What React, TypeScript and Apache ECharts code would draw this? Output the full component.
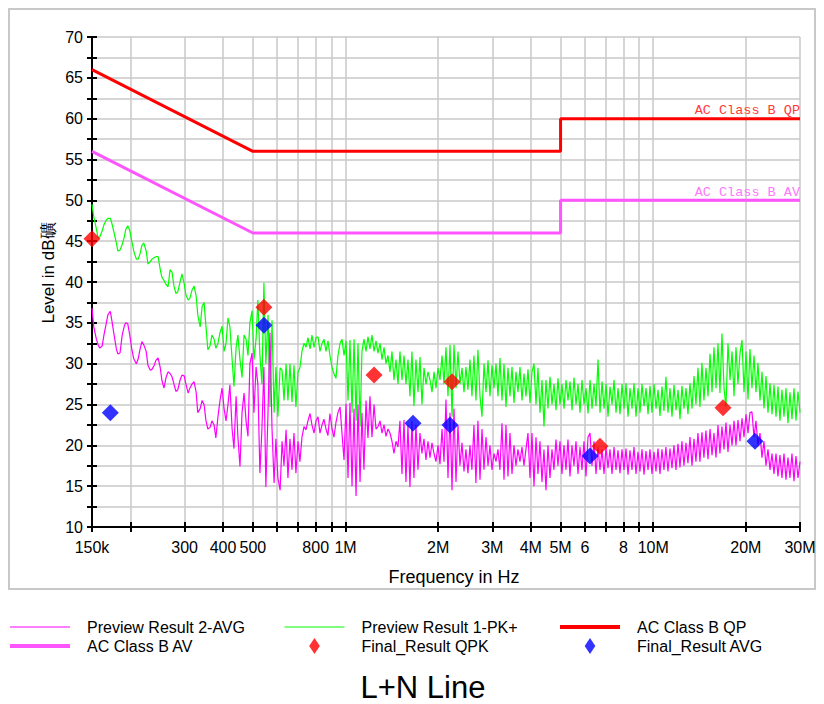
import React, { useEffect, useRef } from "react";
import * as echarts from "echarts";

// Sweep frequencies (kHz) of the preview scans
const freqKHz = [
  150, 152, 155, 157,
  159, 162, 164, 167, 169, 172, 174, 177, 180, 182, 185, 188, 191, 193, 196,
  199, 202, 205, 209, 212, 215, 218, 221, 225, 228, 232, 235, 239, 242, 246,
  250, 253, 257, 261, 265, 269, 273, 277, 281, 285, 290, 294, 299, 303, 308,
  312, 317, 322, 327, 331, 337, 342, 347, 352, 357, 363, 368, 374, 379, 385,
  391, 397, 403, 409, 415, 421, 428, 434, 441, 447, 454, 461, 468, 475, 482,
  489, 497, 504, 512, 519, 527, 535, 543, 551, 560, 568, 577, 586, 594, 603,
  613, 622, 631, 641, 650, 660, 670, 680, 690, 701, 711, 722, 733, 744, 755,
  767, 778, 790, 802, 814, 826, 839, 851, 864, 877, 890, 904, 917, 931, 945,
  960, 974, 989, 1004, 1019, 1034, 1050, 1066, 1082, 1098, 1115, 1131, 1148, 1166, 1183,
  1201, 1219, 1238, 1256, 1275, 1295, 1314, 1334, 1354, 1374, 1395, 1416, 1437, 1459, 1481,
  1503, 1526, 1549, 1572, 1596, 1620, 1644, 1669, 1694, 1720, 1746, 1772, 1799, 1826, 1854,
  1882, 1910, 1939, 1968, 1998, 2028, 2059, 2090, 2121, 2153, 2186, 2219, 2252, 2286, 2320,
  2355, 2391, 2427, 2463, 2500, 2538, 2576, 2615, 2654, 2694, 2736, 2777, 2819, 2862, 2905,
  2948, 2993, 3038, 3084, 3130, 3177, 3225, 3274, 3323, 3373, 3424, 3476, 3528, 3581, 3635,
  3690, 3746, 3802, 3859, 3918, 3977, 4037, 4098, 4160, 4222, 4286, 4351, 4416, 4483, 4550,
  4619, 4689, 4759, 4831, 4904, 4978, 5053, 5130, 5207, 5285, 5365, 5446, 5528, 5612, 5696,
  5782, 5869, 5958, 6048, 6139, 6232, 6326, 6421, 6518, 6617, 6716, 6818, 6921, 7025, 7131,
  7238, 7348, 7459, 7571, 7686, 7800, 7918, 8038, 8159, 8282, 8406, 8533, 8662, 8793, 8925,
  9059, 9196, 9335, 9476, 9619, 9763, 9910, 10060, 10212, 10366, 10520, 10680, 10840, 11000, 11170,
  11340, 11510, 11680, 11860, 12040, 12220, 12400, 12590, 12780, 12970, 13170, 13370, 13570, 13770, 13980,
  14190, 14400, 14620, 14840, 15070, 15300, 15530, 15760, 16000, 16240, 16480, 16730, 16990, 17240, 17500,
  17770, 18040, 18310, 18580, 18860, 19150, 19440, 19730, 20030, 20330, 20630, 20940, 21260, 21580, 21900,
  22240, 22570, 22910, 23260, 23610, 23970, 24330, 24690, 25070, 25440, 25820, 26210, 26610, 27010, 27420,
  27830, 28250, 28680, 29110, 29550, 30000,
];

// Preview Result 1-PK+ (dBµV)
const pkLevels = [
  49.5, 48.0, 46.5, 45.4,
  45.5, 46.3, 47.0, 47.6, 47.8, 47.8, 47.2, 46.0, 44.8, 43.8, 43.9, 44.6, 45.5, 46.4, 46.9,
  46.3, 45.0, 43.8, 42.8, 42.8, 43.5, 44.5, 44.8, 43.8, 42.2, 42.5, 42.8, 43.0, 43.1, 43.1,
  41.5, 40.6, 40.2, 39.7, 39.4, 41.5, 41.2, 39.5, 38.6, 38.8, 40.0, 41.0, 39.8, 38.4, 37.8,
  38.0, 39.0, 39.5, 38.3, 36.0, 34.5, 37.0, 37.5, 34.5, 31.7, 32.2, 33.5, 33.0, 31.9, 32.5,
  33.8, 34.6, 31.5, 32.5, 35.6, 34.5, 30.5, 27.2, 32.0, 33.5, 30.5, 28.3, 33.5, 33.0, 31.0,
  35.0, 36.5, 30.5, 33.0, 37.8, 31.0, 27.5, 39.9, 30.0, 36.0, 24.7, 35.3, 24.0, 29.6, 23.5,
  29.5, 29.2, 25.5, 30.0, 25.5, 30.0, 25.3, 29.8, 24.7, 29.0, 29.5, 31.5, 32.5, 32.0, 33.2,
  31.8, 33.5, 32.0, 33.2, 33.3, 31.5, 32.5, 33.0, 31.5, 32.8, 31.0, 29.5, 28.8, 28.2, 31.0,
  32.5, 33.0, 31.0, 32.8, 25.5, 32.9, 24.0, 33.0, 23.0, 32.5, 22.3, 31.5, 33.0, 31.5, 33.3,
  31.8, 33.5, 31.5, 32.8, 31.3, 32.5, 30.5, 32.0, 30.0, 31.0, 29.0, 31.5, 28.0, 30.5, 27.5,
  31.5, 28.0, 31.0, 27.5, 30.5, 26.0, 31.5, 24.8, 30.5, 26.5, 30.8, 25.0, 29.5, 27.5, 29.0,
  28.0, 26.5, 29.0, 27.0, 29.5, 28.0, 31.0, 27.5, 32.0, 26.0, 32.3, 23.5, 32.3, 27.0, 31.5,
  27.5, 29.5, 26.5, 29.6, 26.8, 30.5, 26.0, 31.0, 25.5, 31.7, 26.0, 23.5, 30.0, 26.5, 30.4,
  26.0, 29.8, 27.0, 30.0, 26.0, 30.7, 25.5, 30.0, 24.7, 29.5, 26.0, 29.6, 25.2, 29.0, 26.5,
  29.6, 25.5, 28.8, 26.0, 29.3, 25.2, 29.0, 30.0, 25.0, 29.5, 24.0, 28.0, 22.3, 28.0, 24.5,
  28.4, 25.0, 27.5, 24.3, 28.2, 25.0, 27.5, 24.5, 28.0, 25.5, 27.8, 24.3, 28.3, 25.0, 27.5,
  24.0, 28.0, 25.0, 27.0, 23.9, 28.0, 24.5, 27.5, 24.8, 30.5, 24.0, 27.8, 24.5, 27.5, 23.5,
  27.2, 25.0, 28.0, 24.0, 27.0, 23.8, 27.5, 24.5, 27.6, 23.5, 27.0, 24.5, 27.6, 23.5, 27.0,
  24.0, 27.5, 24.8, 27.0, 23.8, 27.3, 24.0, 27.5, 24.5, 26.8, 23.6, 27.2, 24.2, 28.4, 24.0,
  27.0, 23.5, 27.4, 24.3, 26.8, 23.2, 27.3, 24.5, 27.0, 23.8, 27.6, 24.5, 28.5, 25.0, 29.5,
  24.7, 30.1, 25.5, 29.5, 26.0, 31.2, 26.5, 32.0, 27.0, 32.5, 26.4, 33.7, 27.0, 24.7, 32.5,
  28.0, 31.5, 26.0, 32.0, 27.5, 31.3, 32.9, 26.5, 31.5, 25.6, 31.8, 27.0, 31.0, 26.5, 30.1,
  25.5, 29.0, 24.5, 28.5, 24.0, 27.6, 23.8, 27.4, 23.5, 27.2, 23.0, 26.8, 23.5, 27.0, 22.7,
  26.5, 23.2, 27.0, 23.0, 26.6, 24.0,
];

// Preview Result 2-AVG (dBµV)
const avgLevels = [
  36.8, 34.5, 33.0, 32.3,
  31.9, 32.2, 33.5, 35.0, 36.0, 36.4, 35.3, 33.5, 31.8, 31.2, 31.3, 33.5, 34.6, 35.0, 34.9,
  33.5, 31.8, 30.6, 30.0, 30.6, 31.8, 32.7, 32.3, 31.5, 29.8, 29.2, 29.3, 29.8, 30.4, 30.7,
  29.5, 28.0, 27.0, 28.3, 29.0, 28.8, 28.4, 27.5, 26.6, 26.8, 28.0, 28.6, 28.5, 27.5, 26.4,
  27.0, 27.5, 27.8, 26.5, 24.0, 24.5, 25.5, 25.0, 23.0, 22.0, 22.2, 23.0, 22.5, 20.9, 23.5,
  25.5, 27.0, 24.5, 23.0, 25.0, 27.4, 22.0, 19.6, 26.0, 21.0, 17.4, 24.0, 26.4, 23.0, 21.1,
  30.0, 31.3, 24.0, 29.6, 27.5, 16.6, 22.0, 29.6, 14.9, 24.0, 33.8, 22.0, 15.4, 20.8, 16.0,
  14.5, 20.5, 17.5, 21.9, 16.0, 20.8, 17.0, 21.5, 16.6, 20.5, 18.0, 21.0, 22.3, 21.9, 23.0,
  23.9, 22.5, 21.5, 23.0, 23.5, 21.5, 22.5, 23.2, 22.0, 21.2, 23.9, 22.0, 21.0, 22.8, 24.0,
  24.7, 21.5, 18.2, 25.1, 16.0, 25.2, 15.0, 24.5, 13.8, 25.0, 15.5, 24.0, 17.0, 25.5, 20.9,
  26.0, 21.0, 25.0, 22.0, 22.3, 23.0, 21.5, 22.5, 21.1, 22.0, 21.5, 20.5, 19.0, 20.5, 19.8,
  23.0, 16.5, 23.1, 15.5, 22.5, 14.9, 23.0, 16.0, 22.5, 17.0, 21.5, 19.0, 20.8, 18.2, 20.5,
  18.5, 20.3, 19.0, 18.0, 20.0, 17.7, 22.0, 18.0, 25.6, 16.0, 24.0, 14.5, 24.5, 15.5, 22.5,
  17.5, 20.3, 16.8, 19.5, 16.6, 20.0, 17.0, 22.5, 15.4, 23.0, 15.8, 22.0, 17.0, 21.0, 17.5,
  20.0, 17.0, 19.0, 18.0, 19.5, 17.0, 22.7, 15.8, 22.5, 16.2, 21.5, 16.5, 20.0, 17.5, 19.5,
  18.0, 19.8, 17.5, 19.5, 21.5, 16.0, 21.5, 15.0, 21.0, 16.5, 20.5, 15.5, 19.5, 14.5, 20.0,
  16.0, 19.5, 17.0, 20.7, 17.5, 20.5, 16.5, 20.0, 17.0, 20.7, 16.2, 20.0, 17.5, 20.5, 16.5,
  19.8, 17.0, 20.5, 16.2, 21.0, 21.5, 17.5, 20.5, 16.5, 19.8, 17.0, 19.5, 16.5, 19.8, 17.2,
  19.5, 16.5, 19.8, 17.0, 19.4, 16.6, 19.5, 17.0, 19.6, 16.4, 19.4, 17.0, 19.8, 16.5, 19.2,
  16.8, 19.5, 16.4, 19.3, 17.0, 19.5, 16.5, 19.2, 16.8, 19.6, 16.5, 19.5, 17.0, 19.8, 16.8,
  19.6, 17.2, 20.0, 17.0, 20.2, 17.3, 20.5, 17.5, 20.3, 17.8, 21.0, 17.5, 20.8, 18.0, 21.5,
  18.0, 21.6, 18.5, 21.8, 18.3, 22.0, 18.8, 21.5, 18.5, 22.5, 19.0, 22.3, 19.5, 22.8, 19.2,
  22.5, 20.0, 23.0, 20.0, 23.1, 20.5, 23.3, 21.0, 23.8, 21.5, 24.0, 24.1, 21.0, 23.0, 20.0,
  21.5, 18.5, 20.5, 17.5, 19.5, 17.0, 19.0, 16.5, 19.0, 16.2, 18.8, 16.0, 19.0, 15.8, 18.5,
  16.0, 19.0, 15.6, 18.7, 16.0, 18.0,
];

// Limit lines
const qpLimitFreq = [150, 500, 5000, 5000, 30000];
const qpLimitLevel = [66, 56, 56, 60, 60];
const avLimitFreq = [150, 500, 5000, 5000, 30000];
const avLimitLevel = [56, 46, 46, 50, 50];

// Final measurements
const qpkFreq = [150, 543, 1238, 2219, 6716, 16860];
const qpkLevel = [45.3, 36.9, 28.6, 27.8, 19.9, 24.6];
const finalAvgFreq = [172, 543, 1657, 2186, 6232, 21420];
const finalAvgLevel = [24.0, 34.7, 22.7, 22.5, 18.7, 20.5];

// Axis ticks / labels
const xTicks = [150, 200, 300, 400, 500, 600, 700, 800, 900, 1000, 2000, 3000, 4000, 5000, 6000, 7000, 8000, 9000, 10000, 20000, 30000];
const xLabelValues = [150, 300, 400, 500, 800, 1000, 2000, 3000, 4000, 5000, 6000, 8000, 10000, 20000, 30000];
const xLabelText = ["150k", "300", "400", "500", "800", "1M", "2M", "3M", "4M", "5M", "6", "8", "10M", "20M", "30M"];

const FONT = "'Liberation Sans', Arial, sans-serif";
const MONO = "'Liberation Mono', 'Courier New', monospace";

function zip(xs: number[], ys: number[]) {
  const n = Math.min(xs.length, ys.length);
  const out: number[][] = [];
  for (let i = 0; i < n; i++) out.push([xs[i], ys[i]]);
  return out;
}

function xLabel(v: number) {
  let best = 0;
  let bd = Infinity;
  xLabelValues.forEach((t, i) => {
    const d = Math.abs(Math.log(v / t));
    if (d < bd) {
      bd = d;
      best = i;
    }
  });
  return bd < 0.01 ? xLabelText[best] : "";
}

export default function App() {
  const ref = useRef<HTMLDivElement>(null);
  useEffect(() => {
    if (!ref.current) return;
    const chart = echarts.init(ref.current, null, { renderer: "svg" });
    const tickStyle = { color: "#000", width: 2 };
    const gridLine = { color: "#c8c8c8", width: 1.5 };
    const xBase = { type: "log", logBase: 10, min: 150, max: 30000, gridIndex: 0 };
    const yBase = { type: "value", min: 10, max: 70, interval: 2.5, gridIndex: 0 };
    const legendText = { fontSize: 16, color: "#000", fontFamily: FONT, padding: [0, 0, 0, 12] };
    const diamondIcon = "path://M6,0 L12,9 L6,18 L0,9 Z";
    const hiddenSymbol = { opacity: 0 };
    const legendCommon = {
      orient: "vertical",
      top: 619,
      itemWidth: 60,
      itemHeight: 16,
      itemGap: 3,
      padding: 0,
      textStyle: legendText,
      selectedMode: false,
    };
    chart.setOption({
      animation: false,
      backgroundColor: "#fff",
      textStyle: { fontFamily: FONT },
      grid: { left: 92, top: 37, width: 708, height: 490, containLabel: false },
      xAxis: [
        {
          ...xBase,
          position: "bottom",
          axisLine: { show: true, onZero: false, lineStyle: tickStyle },
          axisTick: { show: true, customValues: xTicks, length: 5, lineStyle: tickStyle },
          axisLabel: {
            customValues: xLabelValues,
            formatter: (v: number) => xLabel(v),
            fontSize: 16,
            color: "#000",
            fontFamily: FONT,
            margin: 12,
          },
          splitLine: { show: true, lineStyle: gridLine },
          minorTick: { show: false },
          minorSplitLine: { show: false },
        },
        {
          ...xBase,
          position: "bottom",
          axisLine: { show: false },
          axisTick: { show: true, inside: true, customValues: xTicks, length: 5, lineStyle: tickStyle },
          axisLabel: { show: false },
          splitLine: { show: false },
        },
      ],
      yAxis: [
        {
          ...yBase,
          position: "left",
          axisLine: { show: true, onZero: false, lineStyle: tickStyle },
          axisTick: { show: true, length: 5, lineStyle: tickStyle },
          axisLabel: {
            fontSize: 16,
            color: "#000",
            fontFamily: FONT,
            margin: 9,
            formatter: (v: number) => (Math.abs(v % 5) < 1e-6 ? String(v) : ""),
          },
          splitLine: { show: true, lineStyle: gridLine },
        },
        {
          ...yBase,
          position: "left",
          axisLine: { show: false },
          axisTick: { show: true, inside: true, length: 5, lineStyle: tickStyle },
          axisLabel: { show: false },
          splitLine: { show: false },
        },
      ],
      legend: [
        {
          ...legendCommon,
          left: 8,
          data: [
            { name: "Preview Result 2-AVG", lineStyle: { width: 1 }, itemStyle: hiddenSymbol },
            { name: "AC Class B AV", lineStyle: { width: 4 }, itemStyle: hiddenSymbol },
          ],
        },
        {
          ...legendCommon,
          left: 284,
          data: [
            { name: "Preview Result 1-PK+", lineStyle: { width: 1 }, itemStyle: hiddenSymbol },
            { name: "Final_Result QPK", icon: diamondIcon },
          ],
        },
        {
          ...legendCommon,
          left: 558,
          data: [
            { name: "AC Class B QP", lineStyle: { width: 4 }, itemStyle: hiddenSymbol },
            { name: "Final_Result AVG", icon: diamondIcon },
          ],
        },
      ],
      series: [
        {
          name: "Preview Result 1-PK+",
          type: "line",
          data: zip(freqKHz, pkLevels),
          symbol: "none",
          lineStyle: { color: "#00ff00", width: 1.2 },
          itemStyle: { color: "#00ff00" },
          silent: true,
        },
        {
          name: "Preview Result 2-AVG",
          type: "line",
          data: zip(freqKHz, avgLevels),
          symbol: "none",
          lineStyle: { color: "#ff00ff", width: 1.2 },
          itemStyle: { color: "#ff00ff" },
          silent: true,
        },
        {
          name: "AC Class B QP",
          type: "line",
          data: zip(qpLimitFreq, qpLimitLevel),
          symbol: "none",
          lineStyle: { color: "#ff0000", width: 3 },
          itemStyle: { color: "#ff0000" },
          silent: true,
          markPoint: {
            symbol: "circle",
            symbolSize: 0,
            silent: true,
            data: [{ coord: [30000, 60] }],
            label: {
              show: true,
              formatter: "AC Class B QP",
              position: [0, -1],
              align: "right",
              verticalAlign: "bottom",
              fontFamily: MONO,
              fontSize: 13.5,
              color: "#ff3b3b",
            },
          },
        },
        {
          name: "AC Class B AV",
          type: "line",
          data: zip(avLimitFreq, avLimitLevel),
          symbol: "none",
          lineStyle: { color: "#ff55ff", width: 3 },
          itemStyle: { color: "#ff55ff" },
          silent: true,
          markPoint: {
            symbol: "circle",
            symbolSize: 0,
            silent: true,
            data: [{ coord: [30000, 50] }],
            label: {
              show: true,
              formatter: "AC Class B AV",
              position: [0, -1],
              align: "right",
              verticalAlign: "bottom",
              fontFamily: MONO,
              fontSize: 13.5,
              color: "#ff77ff",
            },
          },
        },
        {
          name: "Final_Result QPK",
          type: "scatter",
          data: zip(qpkFreq, qpkLevel),
          symbol: "diamond",
          symbolSize: 17,
          itemStyle: { color: "#ff0000" },
          silent: true,
          z: 5,
        },
        {
          name: "Final_Result AVG",
          type: "scatter",
          data: zip(finalAvgFreq, finalAvgLevel),
          symbol: "diamond",
          symbolSize: 17,
          itemStyle: { color: "#0000ff" },
          silent: true,
          z: 5,
        },
      ],
      graphic: [
        {
          type: "rect",
          shape: { x: 9, y: 9, width: 806, height: 580 },
          style: { fill: "none", stroke: "#c8c8c8", lineWidth: 2 },
          silent: true,
          z: -1,
        },
        {
          type: "text",
          x: 454,
          y: 577,
          style: {
            text: "Frequency in Hz",
            font: `18px ${FONT}`,
            fill: "#000",
            textAlign: "center",
            textVerticalAlign: "middle",
            align: "center",
            verticalAlign: "middle",
          },
          silent: true,
        },
        {
          type: "text",
          x: 48,
          y: 273,
          rotation: Math.PI / 2,
          style: {
            text: "Level in dB礦",
            font: `17px ${FONT}`,
            fill: "#000",
            textAlign: "center",
            textVerticalAlign: "middle",
            align: "center",
            verticalAlign: "middle",
          },
          silent: true,
        },
        {
          type: "text",
          x: 423,
          y: 687,
          style: {
            text: "L+N Line",
            font: `31px ${FONT}`,
            fill: "#000",
            textAlign: "center",
            textVerticalAlign: "middle",
            align: "center",
            verticalAlign: "middle",
          },
          silent: true,
        },
      ],
    });
    return () => chart.dispose();
  }, []);
  return (
    <div
      ref={ref}
      style={{ position: "fixed", left: 0, top: 0, width: 824, height: 704, background: "#fff" }}
    />
  );
}
